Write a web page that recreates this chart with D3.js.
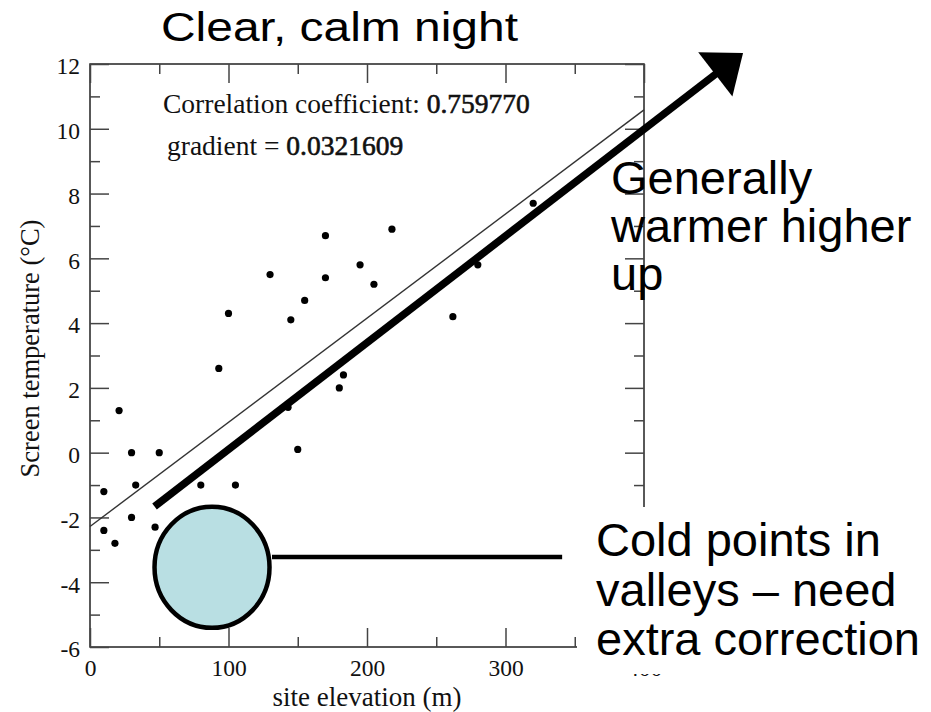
<!DOCTYPE html>
<html>
<head>
<meta charset="utf-8">
<script src="https://cdn.jsdelivr.net/npm/d3@7/dist/d3.min.js"></script>
<style>
  html, body { margin: 0; padding: 0; background: #fff; }
  svg { display: block; }
</style>
</head>
<body>
<svg id="chart" width="931" height="712"></svg>
<script>
// Station elevation (m) and screen temperature (°C) on a clear, calm night
const elevation   = [130, 170, 218, 195, 170, 205, 155, 145, 100, 93, 262, 280, 320, 183, 180, 143, 150, 21, 30, 50, 10, 33, 80, 105, 30, 47, 10, 18];
const temperature = [5.5, 6.7, 6.9, 5.8, 5.4, 5.2, 4.7, 4.1, 4.3, 2.6, 4.2, 5.8, 7.7, 2.4, 2.0, 1.4, 0.1, 1.3, 0, 0, -1.2, -1, -1, -1, -2, -2.3, -2.4, -2.8];

// Least-squares fit reported on the plot
const correlation = "0.759770";
const gradient = 0.0321609;
const gradientLabel = "0.0321609";
const intercept = -2.28;

// Axis ranges and ticks
const xDomain = [0, 400];
const yDomain = [-6, 12];
const xMajorTicks = [0, 100, 200, 300, 400];
const xMinorTicks = [50, 150, 250, 350];
const yMajorTicks = [-6, -4, -2, 0, 2, 4, 6, 8, 10, 12];
const yMinorTicks = [-5, -3, -1, 1, 3, 5, 7, 9, 11];

// Annotation anchors, in data units
const arrowStart = [46.6, -1.66];
const arrowTip = [471.5, 12.34];
const valleyCentre = [88.1, -3.54];
const valleyLeader = [[131.4, -3.22], [340.9, -3.22]];

const titleText = "Clear, calm night";
const warmLines = ["Generally", "warmer higher", "up"];
const coldLines = ["Cold points in", "valleys \u2013 need", "extra correction"];

const svg = d3.select("#chart");
const plot = { left: 90, right: 644, top: 64, bottom: 647 };

const x = d3.scaleLinear().domain(xDomain).range([plot.left, plot.right]);
const y = d3.scaleLinear().domain(yDomain).range([plot.bottom, plot.top]);

const serif = "'Liberation Serif', 'Times New Roman', serif";
const sans = "'Liberation Sans', Arial, sans-serif";
const fmt = d => String(d);

// Title
svg.append("text")
  .attr("x", 339.5).attr("y", 40.5)
  .attr("text-anchor", "middle")
  .attr("font-family", sans).attr("font-size", 40)
  .attr("textLength", 357).attr("lengthAdjust", "spacingAndGlyphs")
  .text(titleText);

// Frame
svg.append("rect")
  .attr("x", plot.left).attr("y", plot.top)
  .attr("width", plot.right - plot.left).attr("height", plot.bottom - plot.top)
  .attr("fill", "none").attr("stroke", "#222").attr("stroke-width", 1.5);

function styleAxis(g) {
  g.select(".domain").remove();
  g.selectAll(".tick line").attr("stroke", "#444").attr("stroke-width", 1.5);
  g.selectAll(".tick text").attr("fill", "#111").attr("font-family", serif).attr("font-size", 23.5);
}

// Bottom axis with labels, inward ticks
svg.append("g").attr("transform", `translate(0,${plot.bottom})`)
  .call(d3.axisBottom(x).tickValues(xMajorTicks).tickFormat(fmt).tickSizeInner(-19).tickSizeOuter(0).tickPadding(12))
  .call(styleAxis)
  .selectAll(".tick text").attr("dy", "0.71em");
svg.append("g").attr("transform", `translate(0,${plot.bottom})`)
  .call(d3.axisBottom(x).tickValues(xMinorTicks).tickFormat("").tickSizeInner(-10).tickSizeOuter(0))
  .call(styleAxis);

// Top axis, ticks only
svg.append("g").attr("transform", `translate(0,${plot.top})`)
  .call(d3.axisTop(x).tickValues(xMajorTicks).tickFormat("").tickSizeInner(-19).tickSizeOuter(0))
  .call(styleAxis);
svg.append("g").attr("transform", `translate(0,${plot.top})`)
  .call(d3.axisTop(x).tickValues(xMinorTicks).tickFormat("").tickSizeInner(-10).tickSizeOuter(0))
  .call(styleAxis);

// Left axis with labels
svg.append("g").attr("transform", `translate(${plot.left},0)`)
  .call(d3.axisLeft(y).tickValues(yMajorTicks).tickFormat(fmt).tickSizeInner(-19).tickSizeOuter(0).tickPadding(10))
  .call(styleAxis)
  .selectAll(".tick text").attr("dy", "0.42em");
svg.append("g").attr("transform", `translate(${plot.left},0)`)
  .call(d3.axisLeft(y).tickValues(yMinorTicks).tickFormat("").tickSizeInner(-10).tickSizeOuter(0))
  .call(styleAxis);

// Right axis, ticks only
svg.append("g").attr("transform", `translate(${plot.right},0)`)
  .call(d3.axisRight(y).tickValues(yMajorTicks).tickFormat("").tickSizeInner(-19).tickSizeOuter(0))
  .call(styleAxis);
svg.append("g").attr("transform", `translate(${plot.right},0)`)
  .call(d3.axisRight(y).tickValues(yMinorTicks).tickFormat("").tickSizeInner(-10).tickSizeOuter(0))
  .call(styleAxis);

// Axis titles
svg.append("text")
  .attr("x", (plot.left + plot.right) / 2).attr("y", 706)
  .attr("text-anchor", "middle")
  .attr("font-family", serif).attr("font-size", 27).attr("fill", "#111")
  .text("site elevation (m)");
svg.append("text")
  .attr("transform", `translate(39,${(plot.top + plot.bottom) / 2 - 7}) rotate(-90)`)
  .attr("text-anchor", "middle")
  .attr("font-family", serif).attr("font-size", 26.5).attr("fill", "#111")
  .text("Screen temperature (\u00B0C)");

// Fit statistics
const stats = svg.append("g").attr("font-family", serif).attr("font-size", 27.5).attr("fill", "#111");
const s1 = stats.append("text").attr("x", 163).attr("y", 113);
s1.append("tspan").text("Correlation coefficient: ");
s1.append("tspan").attr("stroke", "#111").attr("stroke-width", 0.6).text(correlation);
const s2 = stats.append("text").attr("x", 167).attr("y", 155);
s2.append("tspan").text("gradient = ");
s2.append("tspan").attr("stroke", "#111").attr("stroke-width", 0.6).text(gradientLabel);

// Regression line
svg.append("line")
  .attr("x1", x(xDomain[0])).attr("y1", y(intercept + gradient * xDomain[0]))
  .attr("x2", x(xDomain[1])).attr("y2", y(intercept + gradient * xDomain[1]))
  .attr("stroke", "#333").attr("stroke-width", 1.4);

// Observations
svg.append("g").selectAll("circle")
  .data(d3.zip(elevation, temperature))
  .join("circle")
  .attr("cx", d => x(d[0])).attr("cy", d => y(d[1]))
  .attr("r", 3.6).attr("fill", "#000");

// Valley note sits on a white panel
svg.append("rect")
  .attr("x", 577).attr("y", 507).attr("width", 354).attr("height", 167)
  .attr("fill", "#fff");
const cold = svg.append("text").attr("font-family", sans).attr("font-size", 47).attr("fill", "#000");
coldLines.forEach((t, i) => cold.append("tspan").attr("x", 596).attr("y", 556 + i * 49.5).text(t));

// Warm-slope note
const warm = svg.append("text").attr("font-family", sans).attr("font-size", 47).attr("fill", "#000");
warmLines.forEach((t, i) => warm.append("tspan").attr("x", 611).attr("y", 194 + i * 48).text(t));

// Thick trend arrow
const p0 = [x(arrowStart[0]), y(arrowStart[1])];
const p1 = [x(arrowTip[0]), y(arrowTip[1])];
const len = Math.hypot(p1[0] - p0[0], p1[1] - p0[1]);
const ux = (p1[0] - p0[0]) / len, uy = (p1[1] - p0[1]) / len;
const headLen = 35, headHalf = 28;
const base = [p1[0] - ux * headLen, p1[1] - uy * headLen];
svg.append("line")
  .attr("x1", p0[0]).attr("y1", p0[1])
  .attr("x2", base[0] + ux * 2).attr("y2", base[1] + uy * 2)
  .attr("stroke", "#000").attr("stroke-width", 7.5);
svg.append("polygon")
  .attr("points", [
    p1,
    [base[0] - uy * headHalf, base[1] + ux * headHalf],
    [base[0] + uy * headHalf, base[1] - ux * headHalf]
  ].map(p => p.join(",")).join(" "))
  .attr("fill", "#000");

// Valley marker and leader
svg.append("line")
  .attr("x1", x(valleyLeader[0][0])).attr("y1", y(valleyLeader[0][1]))
  .attr("x2", x(valleyLeader[1][0])).attr("y2", y(valleyLeader[1][1]))
  .attr("stroke", "#000").attr("stroke-width", 4.5);
svg.append("ellipse")
  .attr("cx", x(valleyCentre[0])).attr("cy", y(valleyCentre[1]))
  .attr("rx", 57.5).attr("ry", 60.5)
  .attr("fill", "#b9dfe3").attr("stroke", "#000").attr("stroke-width", 4.5);
</script>
</body>
</html>
